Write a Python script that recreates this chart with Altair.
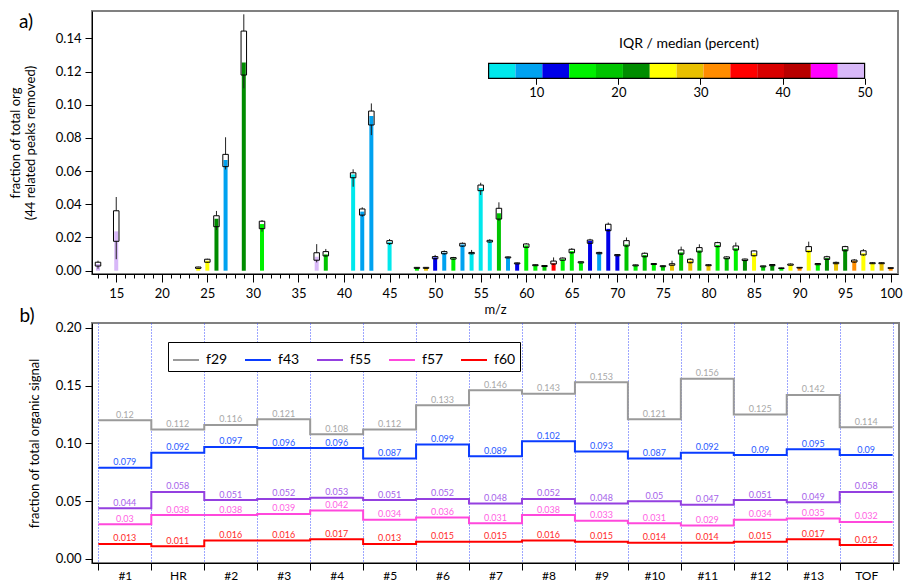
import json
import altair as alt
import pandas as pd

FONT = "Lato"

# ---------------- panel a) ----------------
mz = [13, 15, 24, 25, 26, 27, 29, 31, 37, 38, 41, 42, 43, 45,
      48, 49, 50, 51, 52, 53, 54, 55, 56, 57, 58, 59, 60, 61, 62, 63, 64,
      65, 66, 67, 68, 69, 70, 71, 72, 73, 74, 75, 76, 77, 78, 79, 80, 81,
      82, 83, 84, 85, 86, 87, 88, 89, 90, 91, 92, 93, 94, 95, 96, 97, 98, 99, 100]
med = [0.0040, 0.0237, 0.0018, 0.0060, 0.0313, 0.0667, 0.1255, 0.0281, 0.0084, 0.0098, 0.0580, 0.0356, 0.0932, 0.0172,
       0.0017, 0.0017, 0.0080, 0.0108, 0.0074, 0.0158, 0.0106, 0.0498, 0.0178, 0.0346, 0.0080, 0.0044, 0.0152, 0.0033, 0.0028, 0.0045, 0.0069,
       0.0118, 0.0050, 0.0180, 0.0106, 0.0252, 0.0093, 0.0158, 0.0032, 0.0094, 0.0040, 0.0027, 0.0037, 0.0110, 0.0060, 0.0122, 0.0033, 0.0155,
       0.0077, 0.0135, 0.0065, 0.0105, 0.0026, 0.0033, 0.0015, 0.0037, 0.0018, 0.0125, 0.0039, 0.0076, 0.0046, 0.0130, 0.0059, 0.0105, 0.0045, 0.0045, 0.0016]
q1 = [0.0028, 0.0177, 0.0014, 0.0051, 0.0265, 0.0627, 0.1179, 0.0253, 0.0063, 0.0089, 0.0560, 0.0335, 0.0878, 0.0163,
      0.0014, 0.0014, 0.0072, 0.0102, 0.0070, 0.0148, 0.0102, 0.0482, 0.0173, 0.0311, 0.0077, 0.0041, 0.0141, 0.0030, 0.0025, 0.0040, 0.0063,
      0.0108, 0.0047, 0.0165, 0.0102, 0.0241, 0.0090, 0.0149, 0.0029, 0.0084, 0.0037, 0.0024, 0.0033, 0.0100, 0.0048, 0.0113, 0.0030, 0.0145,
      0.0072, 0.0125, 0.0061, 0.0090, 0.0023, 0.0030, 0.0013, 0.0033, 0.0016, 0.0115, 0.0036, 0.0068, 0.0042, 0.0120, 0.0052, 0.0095, 0.0042, 0.0042, 0.0014]
q3 = [0.0051, 0.0361, 0.0022, 0.0069, 0.0331, 0.0701, 0.1444, 0.0298, 0.0108, 0.0115, 0.0590, 0.0372, 0.0962, 0.0181,
      0.0020, 0.0020, 0.0085, 0.0115, 0.0079, 0.0165, 0.0110, 0.0516, 0.0183, 0.0376, 0.0083, 0.0047, 0.0161, 0.0036, 0.0031, 0.0058, 0.0076,
      0.0129, 0.0054, 0.0185, 0.0110, 0.0280, 0.0097, 0.0181, 0.0035, 0.0105, 0.0043, 0.0030, 0.0042, 0.0125, 0.0069, 0.0139, 0.0036, 0.0169,
      0.0083, 0.0149, 0.0070, 0.0119, 0.0029, 0.0037, 0.0017, 0.0040, 0.0020, 0.0145, 0.0043, 0.0084, 0.0050, 0.0145, 0.0064, 0.0120, 0.0048, 0.0048, 0.0018]
lo = [0.0012, 0.0069, 0.0012, 0.0048, 0.0245, 0.0610, 0.1099, 0.0235, 0.0050, 0.0085, 0.0506, 0.0325, 0.0817, 0.0155,
      0.0012, 0.0012, 0.0065, 0.0097, 0.0066, 0.0144, 0.0098, 0.0456, 0.0168, 0.0300, 0.0074, 0.0038, 0.0135, 0.0028, 0.0023, 0.0035, 0.0059,
      0.0100, 0.0044, 0.0160, 0.0098, 0.0235, 0.0086, 0.0142, 0.0027, 0.0080, 0.0035, 0.0022, 0.0030, 0.0095, 0.0044, 0.0108, 0.0027, 0.0140,
      0.0068, 0.0120, 0.0058, 0.0085, 0.0021, 0.0027, 0.0011, 0.0031, 0.0014, 0.0110, 0.0033, 0.0064, 0.0039, 0.0115, 0.0048, 0.0090, 0.0040, 0.0040, 0.0012]
hi = [0.0060, 0.0444, 0.0024, 0.0072, 0.0360, 0.0804, 0.1545, 0.0305, 0.0160, 0.0131, 0.0611, 0.0382, 0.1008, 0.0191,
      0.0022, 0.0022, 0.0095, 0.0122, 0.0083, 0.0170, 0.0125, 0.0530, 0.0190, 0.0412, 0.0086, 0.0050, 0.0166, 0.0038, 0.0033, 0.0080, 0.0080,
      0.0136, 0.0057, 0.0192, 0.0114, 0.0290, 0.0100, 0.0200, 0.0037, 0.0110, 0.0046, 0.0033, 0.0060, 0.0145, 0.0075, 0.0159, 0.0039, 0.0174,
      0.0087, 0.0170, 0.0073, 0.0124, 0.0031, 0.0040, 0.0019, 0.0043, 0.0022, 0.0175, 0.0046, 0.0090, 0.0055, 0.0150, 0.0070, 0.0130, 0.0051, 0.0051, 0.0020]
iqr_pct = [48.4, 48.4, 25.5, 25.5, 22.2, 9.1, 22.2, 15.6, 48.4, 18.9, 5.8, 9.1, 9.1, 5.8,
           15.6, 28.7, 12.4, 9.1, 15.6, 9.1, 5.8, 5.8, 5.8, 18.9, 9.1, 12.4, 15.6, 15.6, 18.9, 35.3, 15.6,
           15.6, 15.6, 12.4, 9.1, 12.4, 12.4, 18.9, 15.6, 18.9, 15.6, 18.9, 28.7, 18.9, 28.7, 18.9, 28.7, 15.6,
           18.9, 15.6, 22.2, 25.5, 18.9, 22.2, 15.6, 25.5, 32.0, 25.5, 15.6, 22.2, 28.7, 22.2, 32.0, 25.5, 25.5, 28.7, 32.0]

cb_edges = [4.18, 7.45, 10.73, 14.0, 17.27, 20.55, 23.82, 27.09, 30.36, 33.64, 36.91, 40.18, 43.45, 46.73, 50.0]
cb_colors = ["#00E8EC", "#00A2F0", "#0000E8", "#00F000", "#00C400", "#008C00", "#FFFF00",
             "#E8C000", "#FF8C00", "#FF0000", "#D80000", "#B80000", "#FF00FF", "#D8B8F8"]
cb_ticks = [10, 20, 30, 40, 50]

# ---------------- panel b) ----------------
cats = ["#1", "HR", "#2", "#3", "#4", "#5", "#6", "#7", "#8", "#9", "#10", "#11", "#12", "#13", "TOF"]
series = ["f29", "f43", "f55", "f57", "f60"]
f29 = [0.12, 0.112, 0.116, 0.121, 0.108, 0.112, 0.133, 0.146, 0.143, 0.153, 0.121, 0.156, 0.125, 0.142, 0.114]
f43 = [0.079, 0.092, 0.097, 0.096, 0.096, 0.087, 0.099, 0.089, 0.102, 0.093, 0.087, 0.092, 0.09, 0.095, 0.09]
f55 = [0.044, 0.058, 0.051, 0.052, 0.053, 0.051, 0.052, 0.048, 0.052, 0.048, 0.05, 0.047, 0.051, 0.049, 0.058]
f57 = [0.03, 0.038, 0.038, 0.039, 0.042, 0.034, 0.036, 0.031, 0.038, 0.033, 0.031, 0.029, 0.034, 0.035, 0.032]
f60 = [0.013, 0.011, 0.016, 0.016, 0.017, 0.013, 0.015, 0.015, 0.016, 0.015, 0.014, 0.014, 0.015, 0.017, 0.012]
line_colors = ["#9a9a9a", "#0a3cff", "#9440e0", "#ff48dc", "#ff0000"]
label_colors = ["#a8a8a8", "#2a5aff", "#a662ea", "#ff62e4", "#ff2a2a"]

# ======================= panel a ===========================
top_df = pd.DataFrame(dict(mz=mz, med=med, q1=q1, q3=q3, lo=lo, hi=hi, pct=iqr_pct))

xs = alt.Scale(domain=[12.34, 100.8], nice=False, zero=False, padding=0)
ys = alt.Scale(domain=[-0.002, 0.1565], nice=False, zero=False)
cscale = alt.Scale(type="quantize", domain=[cb_edges[0], cb_edges[-1]], range=cb_colors)

x_axis_top = alt.Axis(
    values=list(range(13, 101)), format="d",
    labelExpr="datum.value % 5 === 0 ? datum.label : ''",
    tickSize={"condition": {"test": "datum.value % 5 === 0", "value": 8}, "value": 4},
    labelPadding=5, labelOverlap=False, labelFlush=False, grid=False,
    titlePadding=3, labelFontSize=13, titleFontSize=13)
y_axis_top = alt.Axis(values=[0, 0.02, 0.04, 0.06, 0.08, 0.10, 0.12, 0.14], format=".2f",
                      tickSize=7, labelPadding=4, grid=False, titlePadding=18,
                      labelFontSize=13, titleFontSize=13)
ytitle_top = ["fraction of total org", "(44 related peaks removed)"]

X = alt.X("mz:Q", scale=xs, axis=x_axis_top, title="m/z")
base = alt.Chart(top_df)

box_fill = base.mark_bar(width=5.5, color="white").encode(
    x=X, y=alt.Y("q1:Q", scale=ys, axis=y_axis_top, title=ytitle_top), y2="q3:Q")
bars = base.mark_bar(width=4).encode(
    x=X, y=alt.Y("med:Q", scale=ys, axis=y_axis_top, title=ytitle_top), y2=alt.datum(0),
    color=alt.Color("pct:Q", scale=cscale, legend=None))
wlow = base.mark_rule(color="#222222", strokeWidth=1).encode(
    x=X, y=alt.Y("lo:Q", scale=ys, axis=y_axis_top, title=ytitle_top), y2="q1:Q")
whigh = base.mark_rule(color="#222222", strokeWidth=1).encode(
    x=X, y=alt.Y("q3:Q", scale=ys, axis=y_axis_top, title=ytitle_top), y2="hi:Q")
box_line = base.mark_bar(width=5.5, fill="white", fillOpacity=0, stroke="black", strokeWidth=1).encode(
    x=X, y=alt.Y("q1:Q", scale=ys, axis=y_axis_top, title=ytitle_top), y2="q3:Q")
tag_a = alt.Chart(pd.DataFrame({"t": ["a)"]})).mark_text(
    fontSize=19, align="center", baseline="middle", color="black").encode(
    text="t:N", x=alt.value(-66), y=alt.value(11))

main = alt.layer(box_fill, bars, wlow, whigh, box_line, tag_a)

cb_df = pd.DataFrame({"lo": cb_edges[:-1], "hi": cb_edges[1:]})
cb_df["mid"] = (cb_df["lo"] + cb_df["hi"]) / 2
cb_x = alt.Scale(domain=[cb_edges[0], cb_edges[-1]], range=[396.6, 772.6], nice=False, zero=False, padding=0)
cb_axis = alt.Axis(orient="bottom", offset=-195.7, values=cb_ticks, format="d", tickSize=6,
                   domain=False, labelPadding=2, labelFontSize=13, labelFlush=False,
                   title="IQR / median (percent)", titleFontSize=14, titleX=596.5, titleY=-35,
                   titleBaseline="middle", titleAlign="center")
CBX = alt.X("lo:Q", scale=cb_x, axis=cb_axis, title="IQR / median (percent)")
segs = alt.Chart(cb_df).mark_rect().encode(
    x=CBX, x2="hi:Q", y=alt.value(52.3), y2=alt.value(67.3),
    color=alt.Color("mid:Q", scale=cscale, legend=None))
outline = alt.Chart(cb_df).transform_aggregate(lo="min(lo)", hi="max(hi)").mark_rect(
    fill="white", fillOpacity=0, stroke="black", strokeWidth=1.2).encode(
    x=CBX, x2="hi:Q", y=alt.value(52.3), y2=alt.value(67.3))
cbar = alt.layer(segs, outline)

top = alt.layer(main, cbar).resolve_scale(x="independent").properties(width=806, height=263)

# ======================= panel b ===========================
vals = [f29, f43, f55, f57, f60]
rows, lab_rows = [], []
for s, v in zip(series, vals):
    for i, val in enumerate(v):
        rows.append({"series": s, "pos": i, "val": val})
        lab_rows.append({"series": s, "mid": i + 0.5, "val": val, "lbl": str(val)})
    rows.append({"series": s, "pos": len(v), "val": v[-1]})
line_df = pd.DataFrame(rows)
lab_df = pd.DataFrame(lab_rows)

bx = alt.Scale(domain=[-0.12, 15.12], nice=False, zero=False)
by = alt.Scale(domain=[-0.0035, 0.2043], nice=False, zero=False)
cat_expr = "datum.value < 15 ? " + json.dumps(cats) + "[datum.value] : ''"
bx_axis = alt.Axis(values=list(range(16)), labelExpr=cat_expr,
                   labelOffset={"condition": {"test": "datum.value >= 15", "value": 0}, "value": 26.5},
                   tickSize=7, labelPadding=0, labelOverlap=False, labelFlush=False,
                   grid=True, gridColor="#3a4cff", gridDash=[1, 2], gridWidth=1,
                   labelFontSize=12, title=None)
by_axis = alt.Axis(values=[0, 0.05, 0.10, 0.15, 0.20], format=".2f", tickSize=7, labelPadding=4,
                   grid=False, titlePadding=14, labelFontSize=13, titleFontSize=13)

lines = alt.Chart(line_df).mark_line(interpolate="step-after", strokeWidth=2).encode(
    x=alt.X("pos:Q", scale=bx, axis=bx_axis),
    y=alt.Y("val:Q", scale=by, axis=by_axis, title="fraction of total organic signal"),
    color=alt.Color("series:N", scale=alt.Scale(domain=series, range=line_colors),
                    legend=alt.Legend(title=None, orient="none", legendX=76, legendY=19,
                                      direction="horizontal", symbolType="stroke",
                                      symbolSize=676, symbolStrokeWidth=2, labelFontSize=14,
                                      strokeColor="black", fillColor="white", padding=4,
                                      columnPadding=13, labelOffset=6)),
    detail="series:N")
labels = alt.Chart(lab_df).mark_text(fontSize=9, baseline="alphabetic", dy=-2.5).encode(
    x=alt.X("mid:Q", scale=bx, axis=bx_axis),
    y=alt.Y("val:Q", scale=by, axis=by_axis, title="fraction of total organic signal"),
    text="lbl:N",
    color=alt.Color("series:N", scale=alt.Scale(domain=series, range=label_colors), legend=None))
tag_b = alt.Chart(pd.DataFrame({"t": ["b)"]})).mark_text(
    fontSize=19, align="center", baseline="middle", color="black").encode(
    text="t:N", x=alt.value(-65), y=alt.value(-7))

bottom = alt.layer(lines, labels, tag_b).resolve_scale(color="independent").properties(width=807, height=240)

chart = alt.vconcat(top, bottom, spacing=49, bounds="flush").properties(
    padding={"left": 8, "top": 10, "right": 0, "bottom": 0}
).configure_view(stroke="#808080", strokeWidth=2).configure_axis(
    labelFont=FONT, titleFont=FONT, labelColor="black", titleColor="black",
    tickColor="black", domainColor="black", titleFontWeight="normal"
).configure_text(font=FONT).configure_legend(labelFont=FONT, labelColor="black")

chart.save("out.html", embed_options={"renderer": "svg", "actions": False})
